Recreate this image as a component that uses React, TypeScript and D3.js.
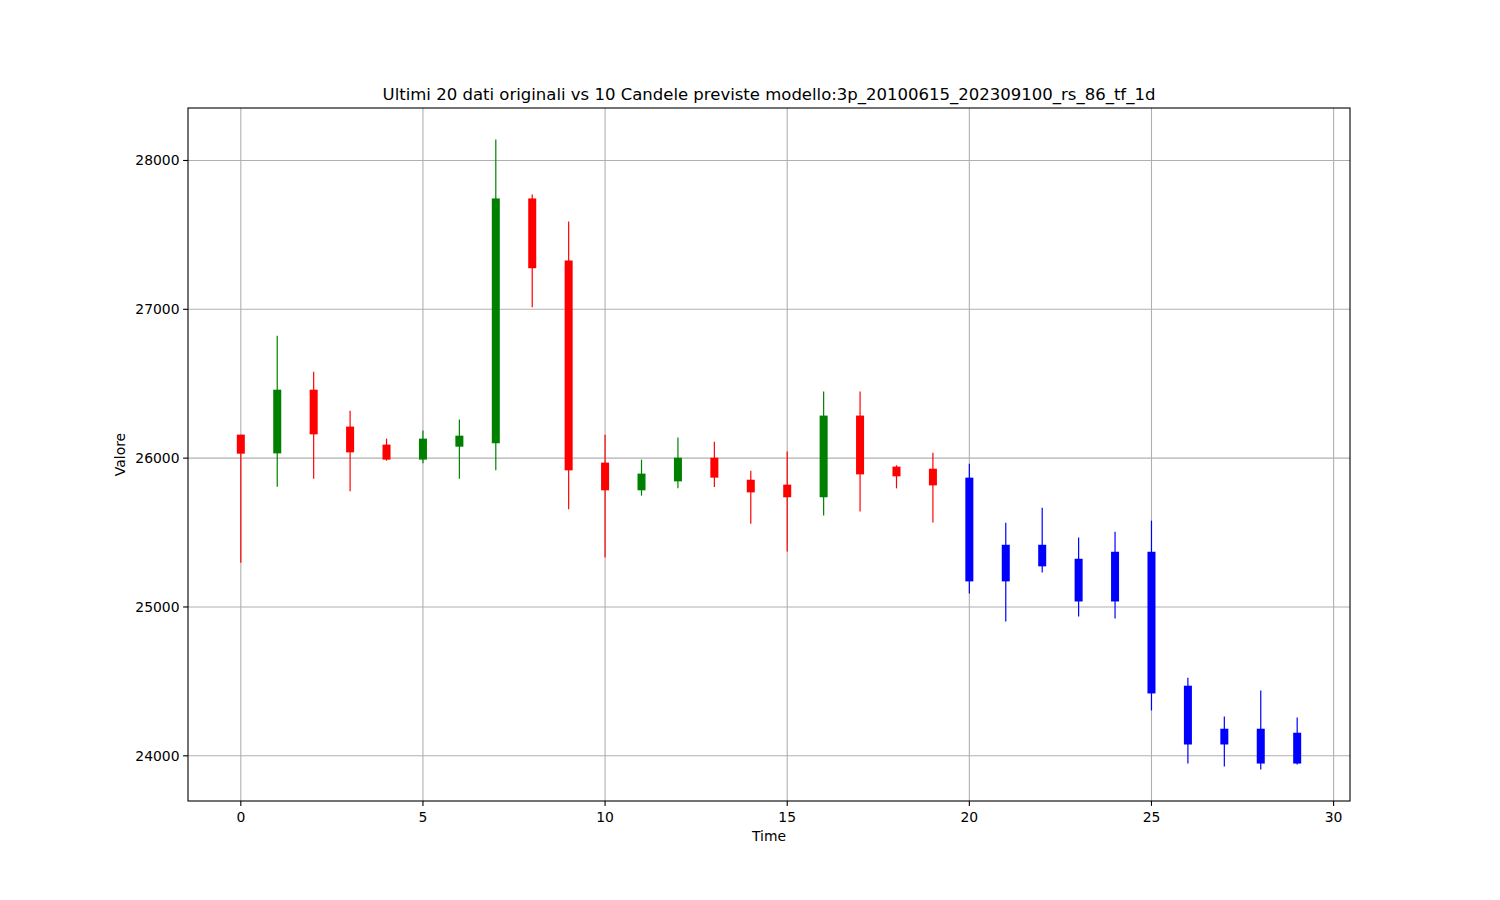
import React from 'react';
import * as d3 from 'd3';

// 20 original candles + 10 predicted ones
const times = d3.range(30);
const opens = [
  26158, 26032, 26460, 26212, 26091, 25990, 26077, 26100, 27745, 27328,
  25970, 25784, 25844, 26003, 25855, 25822, 25737, 26286, 25943, 25929,
  25869, 25418, 25418, 25324, 25371, 25371, 24471, 24182, 24182, 24155,
];
const closes = [
  26030, 26460, 26160, 26039, 25990, 26131, 26151, 27745, 27276, 25918,
  25784, 25896, 26003, 25869, 25770, 25737, 26286, 25891, 25878, 25817,
  25172, 25172, 25273, 25037, 25037, 24419, 24076, 24076, 23948, 23948,
];
const highs = [
  26158, 26823, 26581, 26319, 26131, 26185, 26259, 28141, 27771, 27590,
  26158, 25990, 26138, 26111, 25916, 26044, 26447, 26447, 25952, 26037,
  25963, 25566, 25667, 25467, 25506, 25580, 24524, 24264, 24439, 24257,
];
const lows = [
  25297, 25808, 25862, 25777, 25983, 25965, 25862, 25918, 27014, 25656,
  25333, 25748, 25797, 25806, 25560, 25373, 25615, 25642, 25797, 25568,
  25091, 24903, 25232, 24936, 24923, 24305, 23948, 23928, 23908, 23941,
];
// candles after this index are predictions (drawn in blue)
const nOriginal = 20;
const xTicks = [0, 5, 10, 15, 20, 25, 30];
const yTicks = [24000, 25000, 26000, 27000, 28000];

const title = 'Ultimi 20 dati originali vs 10 Candele previste modello:3p_20100615_202309100_rs_86_tf_1d';

const W = 1500;
const H = 900;
const left = 188;
const right = 1350;
const top = 108;
const bottom = 801;
const font = 'DejaVu Sans, sans-serif';

const App: React.FC = () => {
  const xMin = d3.min(times)!;
  const xMax = d3.max(times)!;
  const xPad = (xMax - xMin) * 0.05;
  const x = d3.scaleLinear().domain([xMin - xPad, xMax + xPad]).range([left, right]);

  const yLo = d3.min(lows)!;
  const yHi = d3.max(highs)!;
  const yPad = (yHi - yLo) * 0.05;
  const y = d3.scaleLinear().domain([yLo - yPad, yHi + yPad]).range([bottom, top]);

  const bodyW = x(0.22) - x(0);

  const colorOf = (i: number) => {
    if (i >= nOriginal) return 'blue';
    return closes[i] >= opens[i] ? 'green' : 'red';
  };

  return (
    <svg width={W} height={H} style={{ position: 'absolute', left: 0, top: 0, background: '#fff' }}>
      <rect x={0} y={0} width={W} height={H} fill="#fff" />
      {/* grid */}
      {xTicks.map(t => (
        <line key={'gx' + t} x1={x(t)} x2={x(t)} y1={top} y2={bottom} stroke="#b0b0b0" strokeWidth={1.1} />
      ))}
      {yTicks.map(t => (
        <line key={'gy' + t} x1={left} x2={right} y1={y(t)} y2={y(t)} stroke="#b0b0b0" strokeWidth={1.1} />
      ))}

      {/* candles */}
      {times.map(i => {
        const c = colorOf(i);
        const yTop = y(Math.max(opens[i], closes[i]));
        const yBot = y(Math.min(opens[i], closes[i]));
        return (
          <g key={'c' + i}>
            <line x1={x(i)} x2={x(i)} y1={y(highs[i])} y2={y(lows[i])} stroke={c} strokeWidth={1.2} />
            <rect x={x(i) - bodyW / 2} y={yTop} width={bodyW} height={Math.max(1, yBot - yTop)} fill={c} />
          </g>
        );
      })}

      {/* frame */}
      <rect x={left} y={top} width={right - left} height={bottom - top} fill="none" stroke="#000" strokeWidth={1.1} />

      {/* x ticks */}
      {xTicks.map(t => (
        <g key={'xt' + t}>
          <line x1={x(t)} x2={x(t)} y1={bottom} y2={bottom + 4.9} stroke="#000" strokeWidth={1.1} />
          <text x={x(t)} y={bottom + 21} textAnchor="middle" fontFamily={font} fontSize={13.9} fill="#000">{t}</text>
        </g>
      ))}
      {/* y ticks */}
      {yTicks.map(t => (
        <g key={'yt' + t}>
          <line x1={left - 4.9} x2={left} y1={y(t)} y2={y(t)} stroke="#000" strokeWidth={1.1} />
          <text x={left - 8.5} y={y(t)} dy="0.35em" textAnchor="end" fontFamily={font} fontSize={13.9} fill="#000">{t}</text>
        </g>
      ))}

      {/* labels */}
      <text x={(left + right) / 2} y={841} textAnchor="middle" fontFamily={font} fontSize={13.9} fill="#000">Time</text>
      <text transform={`translate(125, ${(top + bottom) / 2}) rotate(-90)`} textAnchor="middle" fontFamily={font} fontSize={13.9} fill="#000">Valore</text>
      <text x={(left + right) / 2} y={100} textAnchor="middle" fontFamily={font} fontSize={16.5} fill="#000">{title}</text>
    </svg>
  );
};

export default App;
